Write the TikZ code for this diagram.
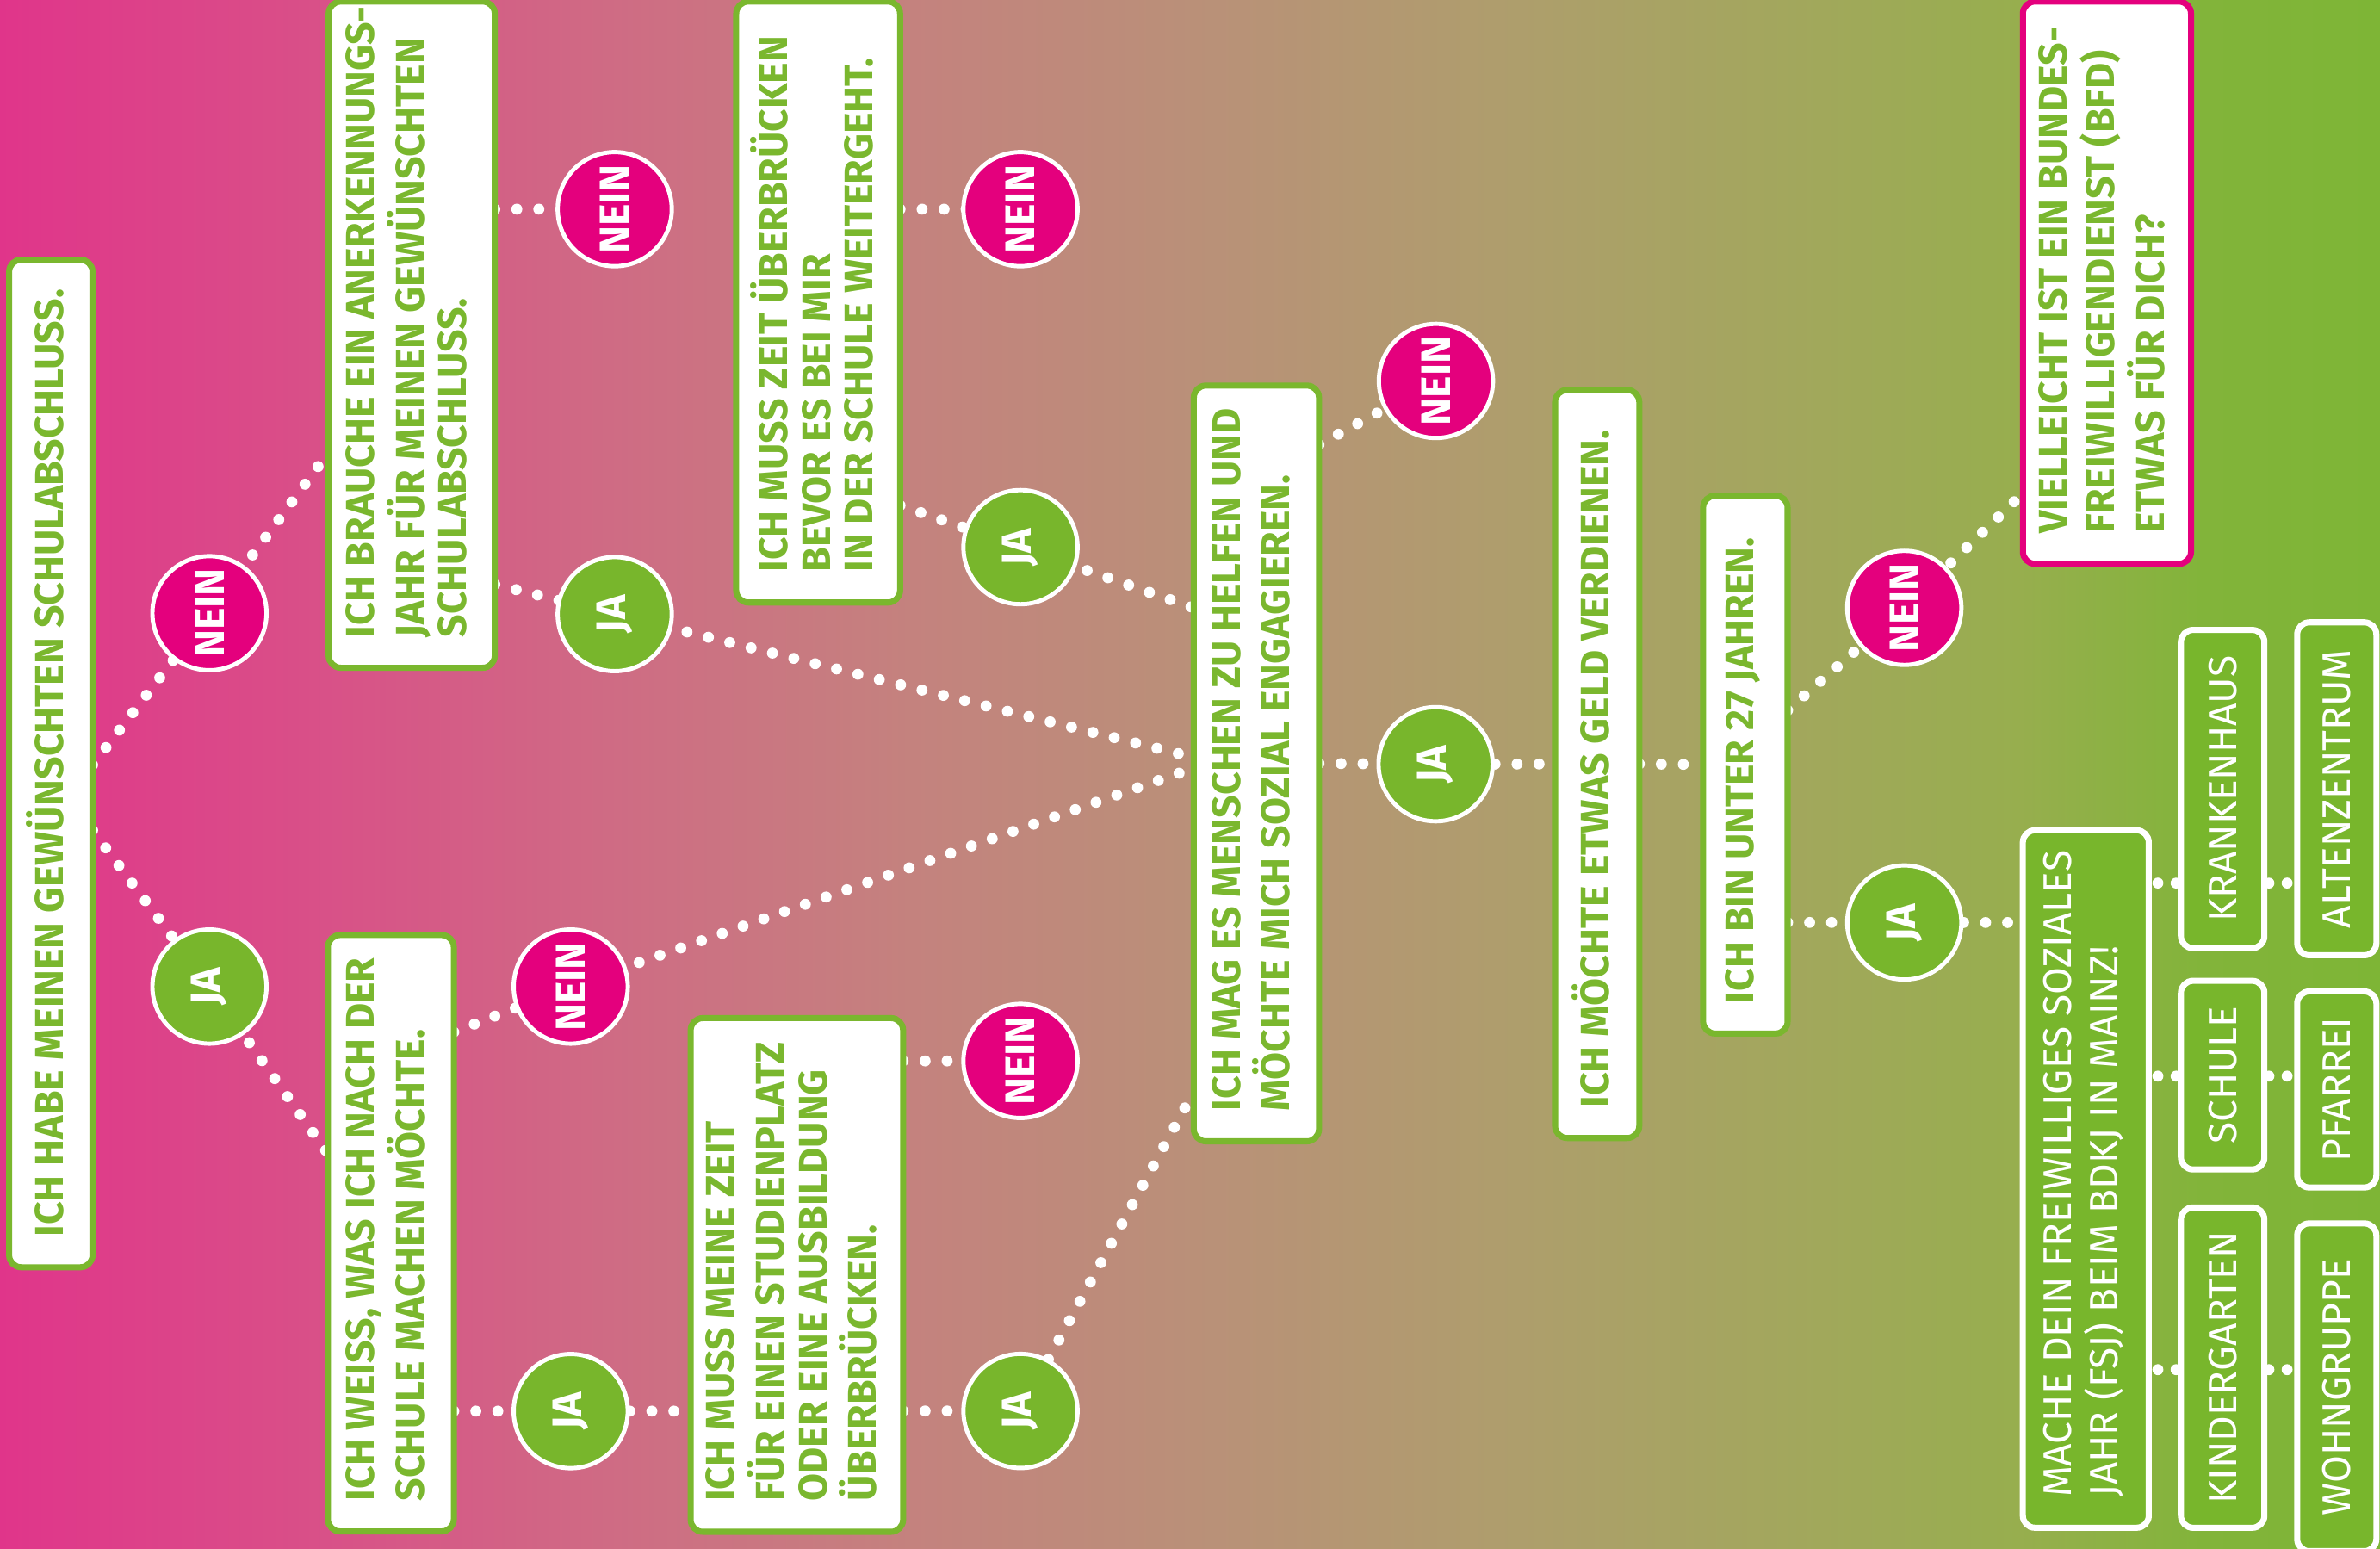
\documentclass[tikz,border=0pt]{standalone}
\usepackage{fontspec}
\setmainfont{Fira Sans}
\usepackage{graphicx}
\usetikzlibrary{calc}
\definecolor{fgreen}{RGB}{122,183,46}
\definecolor{cgreen}{RGB}{120,182,44}
\definecolor{cpink}{RGB}{228,0,125}
\definecolor{g0}{HTML}{E0358A}
\definecolor{g1}{HTML}{D94F88}
\definecolor{g2}{HTML}{CF6B84}
\definecolor{g3}{HTML}{C4827E}
\definecolor{g4}{HTML}{B99178}
\definecolor{g5}{HTML}{AE9E6C}
\definecolor{g6}{HTML}{A1A85B}
\definecolor{g7}{HTML}{97AE4E}
\definecolor{g8}{HTML}{82B43A}
\definecolor{g9}{HTML}{7EB536}
\pgfdeclarelayer{bg}
\pgfdeclarelayer{lines}
\pgfsetlayers{bg,lines,main}
\newcommand\bxt[2]{\rotatebox{90}{\makebox[#1][l]{\begin{tabular}{@{}l@{}}#2\end{tabular}}}}
\newcommand\rtx[1]{\rotatebox{90}{#1}}
\tikzset{
  qbox/.style={draw=fgreen, line width=0.08cm, fill=white, rounded corners=0.16cm, inner sep=0pt, outer sep=0pt, text=fgreen, font=\bfseries\fontsize{15pt}{16pt}\selectfont},
  pbox/.style={qbox, draw=cpink},
  wbox/.style={draw=white, line width=0.08cm, fill=cgreen, rounded corners=0.16cm, inner sep=0pt, outer sep=0pt, text=white, font=\fontsize{14.9pt}{16pt}\selectfont},
  yesc/.style={circle, draw=white, line width=0.056cm, fill=cgreen, minimum size=1.504cm, inner sep=0pt, text=white, font=\bfseries\fontsize{15.6pt}{16pt}\selectfont},
  noc/.style={yesc, fill=cpink},
  dots/.style={draw=white, line width=0.145cm, line cap=round, dash pattern=on 0pt off 0.29cm},
  sdots/.style={draw=white, line width=0.145cm, line cap=round, dash pattern=on 0pt off 0.24cm},
}
\begin{document}
\begin{tikzpicture}[x=0.02cm, y=-0.02cm]
\useasboundingbox (0,0) rectangle (1568,1020);
\begin{pgfonlayer}{bg}
\shade[left color=g0, right color=g1] (0,0) rectangle (200.5,1020);
\shade[left color=g1, right color=g2] (200,0) rectangle (400.5,1020);
\shade[left color=g2, right color=g3] (400,0) rectangle (600.5,1020);
\shade[left color=g3, right color=g4] (600,0) rectangle (800.5,1020);
\shade[left color=g4, right color=g5] (800,0) rectangle (1000.5,1020);
\shade[left color=g5, right color=g6] (1000,0) rectangle (1200.5,1020);
\shade[left color=g6, right color=g7] (1200,0) rectangle (1330.5,1020);
\shade[left color=g7, right color=g8] (1330,0) rectangle (1450.5,1020);
\shade[left color=g8, right color=g9] (1450,0) rectangle (1568,1020);
\end{pgfonlayer}

% question boxes
\node[qbox, minimum width=1.10cm, minimum height=13.28cm] (A) at (33.5,503) {\bxt{12.48cm}{ICH HABE MEINEN GEWÜNSCHTEN SCHULABSCHLUSS.}};
\node[qbox, minimum width=2.19cm, minimum height=8.78cm] (B) at (271.25,220.5) {\bxt{7.98cm}{ICH BRAUCHE EIN ANERKENNUNGS-\\JAHR FÜR MEINEN GEWÜNSCHTEN\\SCHULABSCHLUSS.}};
\node[qbox, minimum width=1.66cm, minimum height=7.86cm] (C) at (257.5,812.5) {\bxt{7.06cm}{ICH WEISS, WAS ICH NACH DER\\SCHULE MACHEN MÖCHTE.}};
\node[qbox, minimum width=1.65cm, minimum height=9.96cm] (D) at (827.75,503) {\bxt{9.16cm}{ICH MAG ES MENSCHEN ZU HELFEN UND\\MÖCHTE MICH SOZIAL ENGAGIEREN.}};
\node[qbox, minimum width=2.80cm, minimum height=6.77cm] (E) at (525,840) {\bxt{5.97cm}{ICH MUSS MEINE ZEIT\\FÜR EINEN STUDIENPLATZ\\ODER EINE AUSBILDUNG\\ÜBERBRÜCKEN.}};
\node[qbox, minimum width=2.16cm, minimum height=7.92cm] (F) at (539,199) {\bxt{7.12cm}{ICH MUSS ZEIT ÜBERBRÜCKEN\\BEVOR ES BEI MIR\\IN DER SCHULE WEITERGEHT.}};
\node[qbox, minimum width=1.11cm, minimum height=9.86cm] (G) at (1052.25,503.35) {\bxt{9.06cm}{ICH MÖCHTE ETWAS GELD VERDIENEN.}};
\node[qbox, minimum width=1.114cm, minimum height=7.09cm] (H) at (1149.85,503.75) {\bxt{6.29cm}{ICH BIN UNTER 27 JAHREN.}};
\node[pbox, minimum width=2.216cm, minimum height=7.41cm] (I) at (1388.1,186.25) {\bxt{6.61cm}{VIELLEICHT IST EIN BUNDES-\\FREIWILLIGENDIENST (BFD)\\ETWAS FÜR DICH?}};
\node[wbox, minimum width=1.66cm, minimum height=9.192cm] (J) at (1374.15,776.8) {\bxt{8.39cm}{MACHE DEIN FREIWILLIGES SOZIALES\\JAHR (FSJ) BEIM BDKJ IN MAINZ!}};
\node[wbox, minimum width=1.10cm, minimum height=4.194cm] (K1) at (1464.3,519.85) {\rtx{KRANKENHAUS}};
\node[wbox, minimum width=1.10cm, minimum height=2.486cm] (K2) at (1464.3,708.35) {\rtx{SCHULE}};
\node[wbox, minimum width=1.10cm, minimum height=4.222cm] (K3) at (1464.3,901.05) {\rtx{KINDERGARTEN}};
\node[wbox, minimum width=1.044cm, minimum height=4.388cm] (L1) at (1539.5,519.7) {\rtx{ALTENZENTRUM}};
\node[wbox, minimum width=1.044cm, minimum height=2.584cm] (L2) at (1539.5,717.8) {\rtx{PFARREI}};
\node[wbox, minimum width=1.044cm, minimum height=4.32cm] (L3) at (1539.5,914) {\rtx{WOHNGRUPPE}};

% answer circles
\node[noc] (n1) at (138,404) {\rtx{NEIN}};
\node[yesc] (j1) at (138,650) {\rtx{JA}};
\node[noc] (n2) at (405,137.8) {\rtx{NEIN}};
\node[yesc] (j2) at (405,404.6) {\rtx{JA}};
\node[noc] (n3) at (376,650) {\rtx{NEIN}};
\node[yesc] (j3) at (376,929.7) {\rtx{JA}};
\node[noc] (n4) at (672.3,699) {\rtx{NEIN}};
\node[yesc] (j4) at (672.3,929.6) {\rtx{JA}};
\node[noc] (n5) at (672.3,137.8) {\rtx{NEIN}};
\node[yesc] (j5) at (672.3,360.5) {\rtx{JA}};
\node[noc] (n6) at (946,251) {\rtx{NEIN}};
\node[yesc] (j6) at (945.8,503.5) {\rtx{JA}};
\node[noc] (n7) at (1254.6,400.5) {\rtx{NEIN}};
\node[yesc] (j7) at (1254.6,607.8) {\rtx{JA}};

\begin{pgfonlayer}{lines}
\draw[dots] ($(A.east)+(0,1)$) -- (n1.center) -- ($(B.west)+(0,77.5)$);
\draw[dots] ($(A.east)+(0,44)$) -- (j1.center) -- ($(C.west)+(0,-52.5)$);
\draw[dots] ($(B.east)+(0,-82.7)$) -- (n2.center);
\draw[dots] ($(B.east)+(0,164.5)$) -- (j2.center) -- ($(D.west)+(0,-4)$);
\draw[dots] ($(C.east)+(0,-132.5)$) -- (n3.center) -- ($(D.west)+(0,3)$);
\draw[dots] ($(C.east)+(0,117.2)$) -- (j3.center) -- ($(E.west)+(0,89.7)$);
\draw[dots] ($(E.east)+(0,-141)$) -- (n4.center);
\draw[dots] ($(E.east)+(0,89.6)$) -- (j4.center) -- ($(D.west)+(0,216)$);
\draw[dots] ($(F.east)+(0,-61.2)$) -- (n5.center);
\draw[dots] ($(F.east)+(0,134)$) -- (j5.center) -- ($(D.west)+(0,-102.5)$);
\draw[dots] ($(D.east)+(0,-210)$) -- (n6.center);
\draw[dots] (D.east) -- (j6.center) -- (G.west);
\draw[dots] (G.east) -- (H.west);
\draw[dots] ($(H.east)+(0,-35.75)$) -- (n7.center) -- ($(I.west)+(0,138.75)$);
\draw[dots] ($(H.east)+(0,104)$) -- (j7.center) -- ($(J.west)+(0,-169)$);
\draw[sdots, shorten <=0.12cm] ($(J.east)+(0,-195)$) -- ($(K1.west)+(0,62)$);
\draw[sdots, shorten <=0.12cm] ($(J.east)+(0,-67.8)$) -- ($(K2.west)+(0,0.65)$);
\draw[sdots, shorten <=0.12cm] ($(J.east)+(0,125.6)$) -- ($(K3.west)+(0,1.35)$);
\draw[sdots, shorten <=0.06cm] ($(K1.east)+(0,62)$) -- ($(L1.west)+(0,62.1)$);
\draw[sdots, shorten <=0.06cm] ($(K2.east)+(0,0.65)$) -- ($(L2.west)+(0,-8.8)$);
\draw[sdots, shorten <=0.06cm] ($(K3.east)+(0,1.35)$) -- ($(L3.west)+(0,-11.6)$);
\end{pgfonlayer}
\end{tikzpicture}
\end{document}
